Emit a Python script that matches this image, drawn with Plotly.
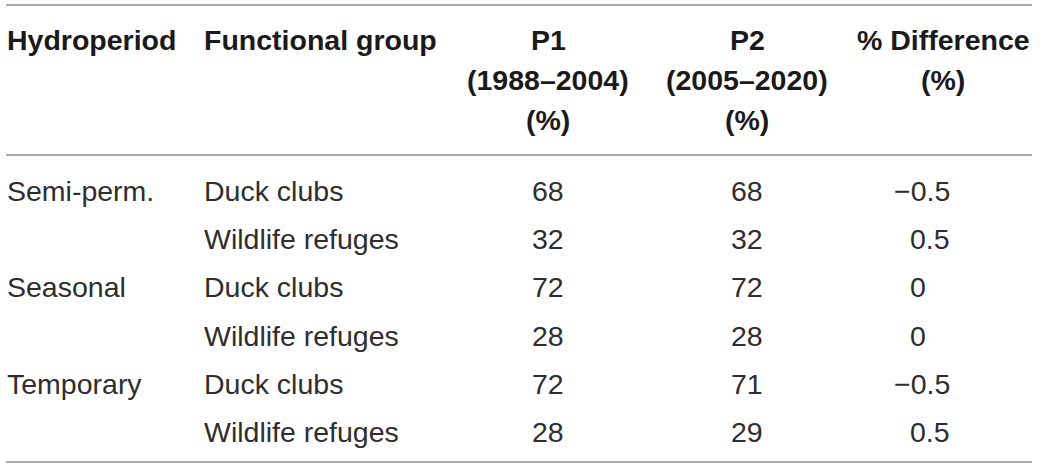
import plotly.graph_objects as go

# ---- data ----
header_lines = [
    ["Hydroperiod", "Functional group", "P1", "P2", "% Difference"],
    ["", "", "(1988\u20132004)", "(2005\u20132020)", "(%)"],
    ["", "", "(%)", "(%)", ""],
]
hydroperiod = ["Semi-perm.", "", "Seasonal", "", "Temporary", ""]
functional_group = ["Duck clubs", "Wildlife refuges", "Duck clubs", "Wildlife refuges",
                    "Duck clubs", "Wildlife refuges"]
p1 = [68, 32, 72, 28, 72, 28]
p2 = [68, 32, 72, 28, 71, 29]
difference = [-0.5, 0.5, 0, 0, -0.5, 0.5]

# ---- layout constants ----
W, H = 1040, 469
FONT = "Liberation Sans"
FS = 28.5
HEAD_COLOR = "#1a1a1a"
BODY_COLOR = "#2e2e2e"
RULE_COLOR = "#8f8f8f"

col_x = [5, 202, 548, 747, 943]          # text anchor x per column
col_anchor = ["left", "left", "center", "center", "center"]
diff_decimal_right = 952                 # right edge for decimal-aligned column
header_y = [40, 80, 120]
row_y0, row_dy = 190.7, 48.3
rules = [5, 155, 462]
rule_x = (6, 1032)


def fmt_diff(v):
    if float(v).is_integer():
        return "%d<span style='color:rgba(0,0,0,0)'>.5</span>" % int(v)
    s = "%.1f" % abs(v)
    return ("\u2212" + s) if v < 0 else s


fig = go.Figure()
annotations = []

for li, line in enumerate(header_lines):
    for ci, txt in enumerate(line):
        if not txt:
            continue
        annotations.append(dict(
            x=col_x[ci], y=header_y[li], xref="x", yref="y", text="<b>%s</b>" % txt,
            showarrow=False, xanchor=col_anchor[ci], yanchor="middle",
            font=dict(family=FONT, size=FS, color=HEAD_COLOR)))

for r in range(len(functional_group)):
    y = row_y0 + r * row_dy
    cells = [hydroperiod[r], functional_group[r], str(p1[r]), str(p2[r])]
    for ci, txt in enumerate(cells):
        if not txt:
            continue
        annotations.append(dict(
            x=col_x[ci], y=y, xref="x", yref="y", text=txt,
            showarrow=False, xanchor=col_anchor[ci], yanchor="middle",
            font=dict(family=FONT, size=FS, color=BODY_COLOR)))
    annotations.append(dict(
        x=diff_decimal_right, y=y, xref="x", yref="y", text=fmt_diff(difference[r]),
        showarrow=False, xanchor="right", yanchor="middle",
        font=dict(family=FONT, size=FS, color=BODY_COLOR)))

shapes = [dict(type="line", xref="x", yref="y", x0=rule_x[0], x1=rule_x[1], y0=yy, y1=yy,
               line=dict(color=RULE_COLOR, width=1.5)) for yy in rules]

fig.update_layout(
    width=W, height=H, margin=dict(l=0, r=0, t=0, b=0),
    paper_bgcolor="white", plot_bgcolor="white",
    xaxis=dict(range=[0, W], visible=False, fixedrange=True),
    yaxis=dict(range=[H, 0], visible=False, fixedrange=True),
    annotations=annotations, shapes=shapes, showlegend=False,
)

# remove the browser's default body margin so the figure fills the window exactly
fig.write_html("out.html", config={"displayModeBar": False},
               post_script="document.body.style.margin='0';document.body.style.overflow='hidden';")
